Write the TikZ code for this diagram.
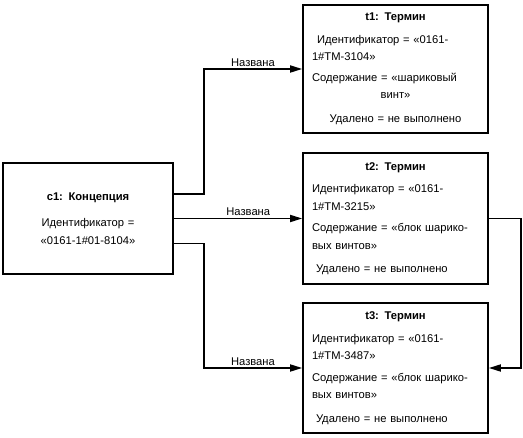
\documentclass[tikz,border=0pt]{standalone}
\usepackage{fontspec}
\setmainfont{Liberation Sans}
\usetikzlibrary{arrows.meta}
\begin{document}
\begin{tikzpicture}[x=1pt, y=-1pt,
    box/.style={draw, line width=1.7pt, minimum width=185pt, inner sep=0pt, text width=167pt, align=left, font=\fontsize{11.2}{17.5}\selectfont},
    conn/.style={line width=1.7pt, -{Triangle[length=12pt, width=7pt]}},
    lbl/.style={above, font=\fontsize{11.2}{13}\selectfont, inner sep=2pt}]
    \useasboundingbox (0,0) rectangle (523,438);

    \node[box, minimum height=128pt] (t1) at (395.5,69) {%
        \centerline{\textbf{t1: Термин}}\par\vspace{5pt}
        \hspace*{5pt}Идентификатор = «0161-\\
        1\#TM-3104»\\[3pt]
        Содержание = «шариковый\par
        \centerline{винт»}\par\vspace{6pt}
        \centerline{Удалено = не выполнено}};
    \node[box, minimum height=131pt] (t2) at (395.5,218.5) {%
        \centerline{\textbf{t2: Термин}}\par\vspace{5pt}
        Идентификатор = «0161-\\
        1\#TM-3215»\\[4pt]
        Содержание = «блок шарико-\\
        вых винтов»\\[6pt]
        \hspace*{4pt}Удалено = не выполнено};
    \node[box, minimum height=130pt] (t3) at (395.5,368) {%
        \centerline{\textbf{t3: Термин}}\par\vspace{5pt}
        Идентификатор = «0161-\\
        1\#TM-3487»\\[4pt]
        Содержание = «блок шарико-\\
        вых винтов»\\[6pt]
        \hspace*{4pt}Удалено = не выполнено};
    \node[box, minimum width=170pt, minimum height=111pt, text width=150pt, align=center] (c1) at (88,218.5) {%
        \textbf{c1: Концепция}\\[9pt]
        Идентификатор =\\
        «0161-1\#01-8104»};

    \draw[conn] ([yshift=24.5pt]c1.east) -- ++(30,0) |- (t1.west) node[lbl, pos=0.75] {Названа};
    \draw[conn] (c1.east) -- (t2.west) node[lbl, pos=0.58] {Названа};
    \draw[conn] ([yshift=-25pt]c1.east) -- ++(30,0) |- (t3.west) node[lbl, pos=0.75] {Названа};
    \draw[conn] (t2.east) -- ++(32,0) |- (t3.east);
\end{tikzpicture}
\end{document}
